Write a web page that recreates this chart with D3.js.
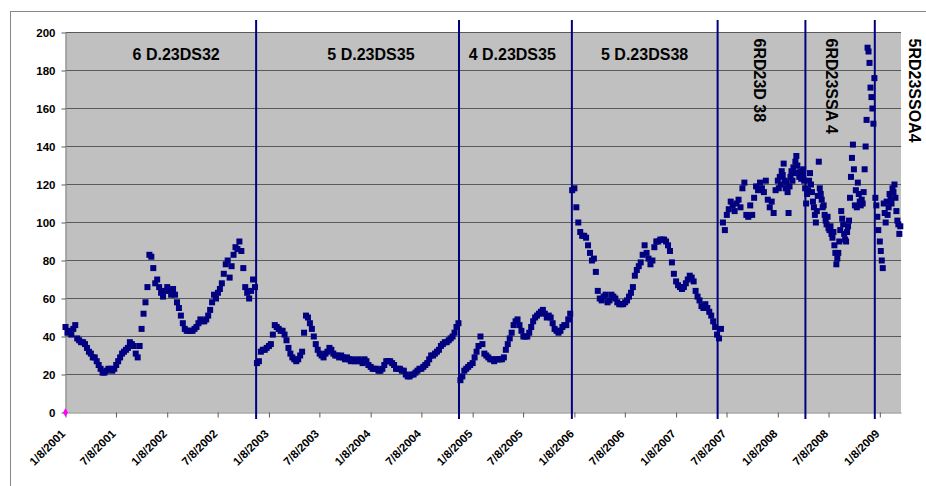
<!DOCTYPE html>
<html lang="en">
<head>
<meta charset="UTF-8">
<title>Weekly series 2001-2009</title>
<script src="https://d3js.org/d3.v7.min.js"></script>
<style>
  body { margin: 0; background: #fff; }
  svg { display: block; font-family: Arial, "Liberation Sans", sans-serif; }
  .grid line { stroke: #5a5a5a; stroke-width: 1px; }
  .axis path { stroke: #808080; }
  .axis line { stroke: #5a5a5a; }
  .axis text { font-weight: bold; fill: #000; }
  .seg-label { font-weight: bold; font-size: 16px; fill: #000; }
</style>
</head>
<body>

<svg width="926" height="486"></svg>

<script>
    // weekly readings per year (2008/2009 read twice a week)
    const v2001 = [45,42,43,41,44,46,39,38,37,37, 36,34,32,31,29,29,27,25,23,21, 21,22,23,23,22,23,25,27,29,31,
                   32,33,34,37,36,35,31,29,35,44, 52,58,66,83,82,76,68,70,66,63, 61,64];
    const v2002 = [66,64,62,65,62,58,55,51,47,44, 43,43,43,43,44,45,47,49,48,48, 49,51,54,58,62,60,63,65,68,73,
                   78,80,71,77,83,87,86,90,85,76, 66,63,60,64,70,66,26,27,32,33, 33,34];
    const v2003 = [35,36,41,46,45,44,43,43,41,38, 34,31,29,28,27,28,30,32,42,51, 50,47,44,40,36,33,31,30,29,31,
                   32,34,33,31,30,30,29,30,29,28, 29,28,27,28,27,27,28,27,26,28, 27,25];
    const v2004 = [24,23,23,23,22,22,23,25,27,27, 27,26,25,23,23,23,22,22,20,19, 19,20,20,21,22,23,23,24,25,26,
                   28,30,30,31,32,33,35,36,37,37, 38,39,40,42,45,47,17,19,22,23, 24,25];
    const v2005 = [26,29,32,35,40,36,31,30,29,28, 28,27,28,28,28,28,29,33,36,39, 42,46,48,49,46,43,40,40,40,42,
                   45,48,50,51,52,53,54,52,50,51, 50,47,44,43,42,43,45,46,46,49, 52,117];
    const v2006 = [118,108,100,95,93,93,92,88,84,80, 81,74,64,60,59,61,62,58,59,62, 61,60,58,57,57,57,58,59,61,63,
                   66,72,75,77,79,83,88,84,81,78, 80,87,90,90,91,91,91,90,88,85, 79,73];
    const v2007 = [69,67,66,65,66,68,70,72,71,69, 64,61,59,56,55,57,55,53,51,48, 45,41,39,44,100,96,104,107,111,109,
                   106,110,112,108,118,121,104,103,109,104, 113,119,117,121,118,116,122,112,108,111, 105,117];
    const v2008 = [122,118,124,120,127,125,131,122,118,121, 116,105,119,124,127,122,129,126,132,135,
                   130,126,124,127,123,125,128,122,118,110, 115,117,122,126,120,116,111,108,104,100,
                   106,114,132,118,115,112,108,109,104,101, 99,103,97,96,98,94,92,95,88,84,
                   78,81,84,90,96,106,102,99,94,91, 90,95,98,101,113,124,134,141,128,109,
                   117,108,121,115,111,109,112,110,116,128, 140,154,192,190,184,171,166,160,152,176,
                   113,109,103,96];
    const v2009 = [90,85,80,76,110,105,100,111,104,108, 115,112,110,118,116,120,113,106,101,99, 94,98];

    const yearStarts = ["2001-01-08","2002-01-08","2003-01-08","2004-01-08","2005-01-08",
                        "2006-01-08","2007-01-08","2008-01-08","2009-01-08"];
    const stepDays = [7, 7, 7, 7, 7, 7, 7, 3.5, 3.5];
    const yearValues = [v2001, v2002, v2003, v2004, v2005, v2006, v2007, v2008, v2009];

    // second series: a single point
    const refDates = ["2001-01-08"];
    const refValues = [0];

    const tickLabels = ["1/8/2001","7/8/2001","1/8/2002","7/8/2002","1/8/2003","7/8/2003","1/8/2004","7/8/2004",
                        "1/8/2005","7/8/2005","1/8/2006","7/8/2006","1/8/2007","7/8/2007","1/8/2008","7/8/2008","1/8/2009"];
    const yTicks = [0, 20, 40, 60, 80, 100, 120, 140, 160, 180, 200];

    // regime change lines and their names
    const breakDates = ["2002-11-23","2004-11-20","2005-12-30","2007-06-06","2008-04-16","2008-12-21"];
    const segNames = ["6 D.23DS32","5 D.23DS35","4 D.23DS35","5 D.23DS38","6RD23D 38","6RD23SSA 4","5RD23SSOA4"];
    const segLabelDates = ["2002-02-09","2004-01-09","2005-05-30","2006-09-17","2007-10-14","2008-06-29","2009-04-24"];
    const segVertical = [false, false, false, false, true, true, true];

    const parse = d3.timeParse("%Y-%m-%d");
    const parseTick = d3.timeParse("%m/%d/%Y");
    const DAY = 864e5;

    const points = yearValues.flatMap((vals, k) => {
        const t0 = parse(yearStarts[k]).getTime();
        return vals.map((v, i) => ({date: new Date(t0 + i * stepDays[k] * DAY), value: v}));
    });

    const svg = d3.select("svg");

    const plotLeft = 65.5, plotRight = 901, plotTop = 32.5, plotBottom = 412.5;
    const markerSize = 6;

    const x = d3.scaleTime()
        .domain([parse("2001-01-08"), parse("2009-03-25")])
        .range([plotLeft, plotRight]);

    const y = d3.scaleLinear()
        .domain([0, 200])
        .range([plotBottom, plotTop]);

    // outer chart border (only top/left fall inside the picture)
    svg.append("rect")
        .attr("x", 10.5).attr("y", 11.5)
        .attr("width", 940).attr("height", 500)
        .attr("fill", "none")
        .attr("stroke", "#888");

    // plot area
    svg.append("rect")
        .attr("x", plotLeft).attr("y", plotTop)
        .attr("width", plotRight - plotLeft).attr("height", plotBottom - plotTop)
        .attr("fill", "#c0c0c0");

    svg.append("g")
        .attr("class", "grid")
        .selectAll("line")
        .data(yTicks.filter(d => d > 0))
        .enter().append("line")
        .attr("x1", plotLeft).attr("x2", plotRight)
        .attr("y1", d => y(d)).attr("y2", d => y(d));

    // axes
    const yAxis = svg.append("g")
        .attr("class", "axis")
        .attr("transform", `translate(${plotLeft},0)`)
        .call(d3.axisLeft(y).tickValues(yTicks).tickSize(4).tickPadding(6).tickSizeOuter(0));
    yAxis.selectAll("text").style("font-size", "11.5px");

    const tickDates = tickLabels.map(parseTick);
    const xAxis = svg.append("g")
        .attr("class", "axis")
        .attr("transform", `translate(0,${plotBottom})`)
        .call(d3.axisBottom(x).tickValues(tickDates).tickSize(5).tickSizeOuter(0)
            .tickFormat((d, i) => tickLabels[i]));
    xAxis.selectAll("text")
        .style("font-size", "11.5px")
        .attr("x", 0).attr("y", 0).attr("dy", 0)
        .attr("text-anchor", "end")
        .attr("transform", "translate(0,22) rotate(-45)");

    // data markers
    svg.append("g")
        .selectAll("rect")
        .data(points)
        .enter().append("rect")
        .attr("x", d => x(d.date) - markerSize / 2)
        .attr("y", d => y(d.value) - markerSize / 2)
        .attr("width", markerSize).attr("height", markerSize)
        .attr("fill", "#000080");

    svg.append("g")
        .selectAll("path")
        .data(refDates.map((d, i) => ({date: parse(d), value: refValues[i]})))
        .enter().append("path")
        .attr("d", d3.symbol(d3.symbolDiamond, 22))
        .attr("transform", d => `translate(${x(d.date)},${y(d.value)})`)
        .attr("fill", "#ff00ff");

    // regime lines
    svg.append("g")
        .selectAll("line")
        .data(breakDates.map(parse))
        .enter().append("line")
        .attr("x1", d => x(d)).attr("x2", d => x(d))
        .attr("y1", 20).attr("y2", 419)
        .attr("stroke", "#000080")
        .attr("stroke-width", 2);

    // segment names
    svg.append("g")
        .selectAll("text")
        .data(segNames)
        .enter().append("text")
        .attr("class", "seg-label")
        .attr("text-anchor", (d, i) => segVertical[i] ? "start" : "middle")
        .attr("transform", (d, i) => {
            const px = x(parse(segLabelDates[i]));
            return segVertical[i] ? `translate(${px},38.5) rotate(90)` : `translate(${px},59.5)`;
        })
        .text(d => d);
</script>

</body>
</html>
